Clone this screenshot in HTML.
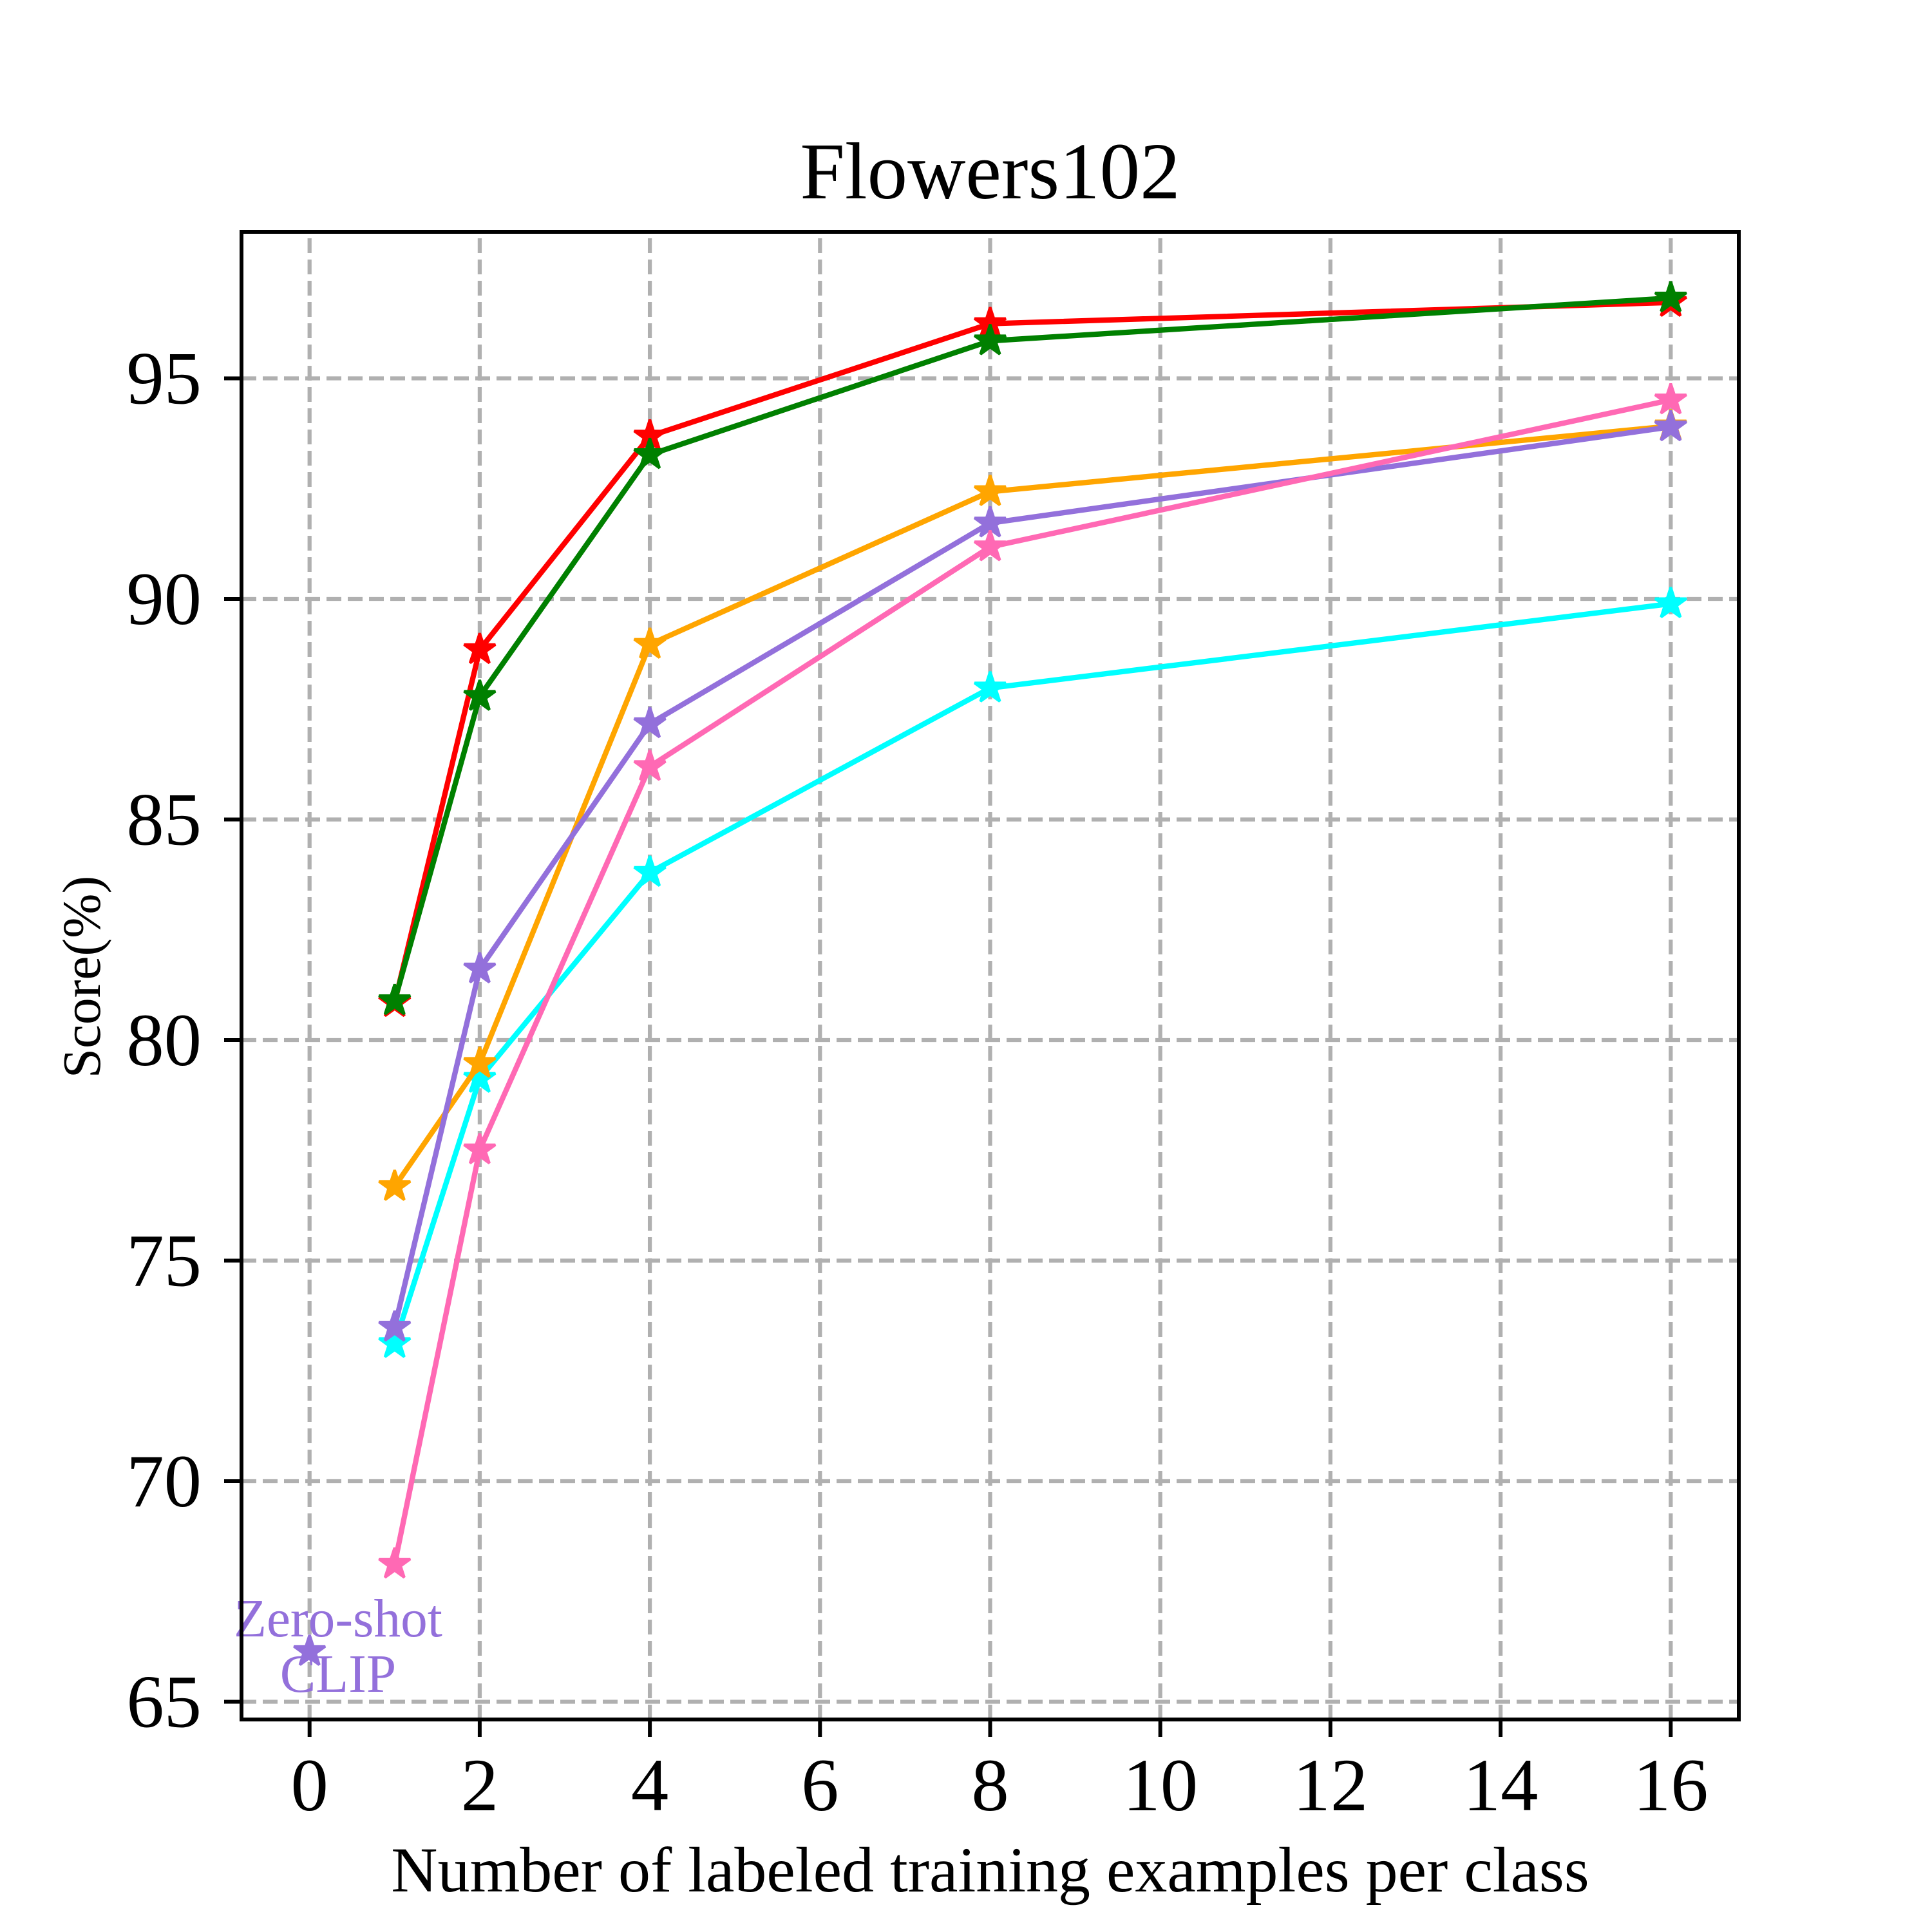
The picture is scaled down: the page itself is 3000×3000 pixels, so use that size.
<!DOCTYPE html>
<html>
<head>
<meta charset="utf-8">
<style>
  html, body { margin: 0; padding: 0; background: #ffffff; }
  svg { display: block; }
  text { font-family: "Liberation Serif", "DejaVu Serif", serif; fill: #000; }
</style>
</head>
<body>
<svg width="3000" height="3000" viewBox="0 0 3000 3000" xmlns="http://www.w3.org/2000/svg">
  <defs>
    <path id="star" d="M0,-25.5 L5.725,-7.88 L24.253,-7.88 L9.264,3.01 L14.989,20.63 L0,9.74 L-14.989,20.63 L-9.264,3.01 L-24.253,-7.88 L-5.725,-7.88 Z" stroke-width="4.2" stroke-linejoin="bevel"/>
  </defs>
  <rect x="0" y="0" width="3000" height="3000" fill="#ffffff"/>

  <!-- grid -->
  <g stroke="#b0b0b0" stroke-width="6.25" stroke-dasharray="23 10" fill="none">
    <line x1="480.7" y1="2670" x2="480.7" y2="360"/>
    <line x1="744.9" y1="2670" x2="744.9" y2="360"/>
    <line x1="1009.1" y1="2670" x2="1009.1" y2="360"/>
    <line x1="1273.3" y1="2670" x2="1273.3" y2="360"/>
    <line x1="1537.5" y1="2670" x2="1537.5" y2="360"/>
    <line x1="1801.7" y1="2670" x2="1801.7" y2="360"/>
    <line x1="2065.9" y1="2670" x2="2065.9" y2="360"/>
    <line x1="2330.1" y1="2670" x2="2330.1" y2="360"/>
    <line x1="2594.3" y1="2670" x2="2594.3" y2="360"/>
    <line x1="375" y1="2642.5" x2="2700" y2="2642.5"/>
    <line x1="375" y1="2300" x2="2700" y2="2300"/>
    <line x1="375" y1="1957.5" x2="2700" y2="1957.5"/>
    <line x1="375" y1="1615" x2="2700" y2="1615"/>
    <line x1="375" y1="1272.5" x2="2700" y2="1272.5"/>
    <line x1="375" y1="930" x2="2700" y2="930"/>
    <line x1="375" y1="587.5" x2="2700" y2="587.5"/>
  </g>

  <!-- zero-shot CLIP -->
  <use href="#star" x="480.7" y="2564.4" fill="#9370db" stroke="#9370db"/>
  <text x="525" y="2541" font-size="83.3" text-anchor="middle" style="fill:#9370db">Zero-shot</text>
  <text x="525" y="2627" font-size="83.3" text-anchor="middle" style="fill:#9370db">CLIP</text>

  <!-- cyan -->
  <polyline points="612.8,2086.3 744.9,1674.6 1009.1,1354.7 1537.5,1068.4 2594.3,937.5" fill="none" stroke="#00ffff" stroke-width="8.3" stroke-linejoin="round" stroke-linecap="butt"/>
  <g fill="#00ffff" stroke="#00ffff">
    <use href="#star" x="612.8" y="2086.3"/>
    <use href="#star" x="744.9" y="1674.6"/>
    <use href="#star" x="1009.1" y="1354.7"/>
    <use href="#star" x="1537.5" y="1068.4"/>
    <use href="#star" x="2594.3" y="937.5"/>
  </g>

  <!-- orange -->
  <polyline points="612.8,1842.4 744.9,1651.3 1009.1,1000.6 1537.5,763.5 2594.3,661.5" fill="none" stroke="#ffa500" stroke-width="8.3" stroke-linejoin="round"/>
  <g fill="#ffa500" stroke="#ffa500">
    <use href="#star" x="612.8" y="1842.4"/>
    <use href="#star" x="744.9" y="1651.3"/>
    <use href="#star" x="1009.1" y="1000.6"/>
    <use href="#star" x="1537.5" y="763.5"/>
    <use href="#star" x="2594.3" y="661.5"/>
  </g>

  <!-- purple -->
  <polyline points="612.8,2060.9 744.9,1504.7 1009.1,1123.9 1537.5,812.2 2594.3,662.9" fill="none" stroke="#9370db" stroke-width="8.3" stroke-linejoin="round"/>
  <g fill="#9370db" stroke="#9370db">
    <use href="#star" x="612.8" y="2060.9"/>
    <use href="#star" x="744.9" y="1504.7"/>
    <use href="#star" x="1009.1" y="1123.9"/>
    <use href="#star" x="1537.5" y="812.2"/>
    <use href="#star" x="2594.3" y="662.9"/>
  </g>

  <!-- pink -->
  <polyline points="612.8,2428.8 744.9,1785.6 1009.1,1190.3 1537.5,849.2 2594.3,621.1" fill="none" stroke="#ff69b4" stroke-width="8.3" stroke-linejoin="round"/>
  <g fill="#ff69b4" stroke="#ff69b4">
    <use href="#star" x="612.8" y="2428.8"/>
    <use href="#star" x="744.9" y="1785.6"/>
    <use href="#star" x="1009.1" y="1190.3"/>
    <use href="#star" x="1537.5" y="849.2"/>
    <use href="#star" x="2594.3" y="621.1"/>
  </g>

  <!-- red -->
  <polyline points="612.8,1556.8 744.9,1008.8 1009.1,677.2 1537.5,502.6 2594.3,469.7" fill="none" stroke="#ff0000" stroke-width="8.3" stroke-linejoin="round"/>
  <g fill="#ff0000" stroke="#ff0000">
    <use href="#star" x="612.8" y="1556.8"/>
    <use href="#star" x="744.9" y="1008.8"/>
    <use href="#star" x="1009.1" y="677.2"/>
    <use href="#star" x="1537.5" y="502.6"/>
    <use href="#star" x="2594.3" y="469.7"/>
  </g>

  <!-- green -->
  <polyline points="612.8,1554.0 744.9,1081.4 1009.1,706.0 1537.5,529.3 2594.3,462.8" fill="none" stroke="#008000" stroke-width="8.3" stroke-linejoin="round"/>
  <g fill="#008000" stroke="#008000">
    <use href="#star" x="612.8" y="1554.0"/>
    <use href="#star" x="744.9" y="1081.4"/>
    <use href="#star" x="1009.1" y="706.0"/>
    <use href="#star" x="1537.5" y="529.3"/>
    <use href="#star" x="2594.3" y="462.8"/>
  </g>

  <!-- spines -->
  <rect x="375" y="360" width="2325" height="2310" fill="none" stroke="#000" stroke-width="6"/>

  <!-- ticks -->
  <g stroke="#000" stroke-width="6">
    <line x1="480.7" y1="2670" x2="480.7" y2="2697"/>
    <line x1="744.9" y1="2670" x2="744.9" y2="2697"/>
    <line x1="1009.1" y1="2670" x2="1009.1" y2="2697"/>
    <line x1="1273.3" y1="2670" x2="1273.3" y2="2697"/>
    <line x1="1537.5" y1="2670" x2="1537.5" y2="2697"/>
    <line x1="1801.7" y1="2670" x2="1801.7" y2="2697"/>
    <line x1="2065.9" y1="2670" x2="2065.9" y2="2697"/>
    <line x1="2330.1" y1="2670" x2="2330.1" y2="2697"/>
    <line x1="2594.3" y1="2670" x2="2594.3" y2="2697"/>
    <line x1="348" y1="2642.5" x2="375" y2="2642.5"/>
    <line x1="348" y1="2300" x2="375" y2="2300"/>
    <line x1="348" y1="1957.5" x2="375" y2="1957.5"/>
    <line x1="348" y1="1615" x2="375" y2="1615"/>
    <line x1="348" y1="1272.5" x2="375" y2="1272.5"/>
    <line x1="348" y1="930" x2="375" y2="930"/>
    <line x1="348" y1="587.5" x2="375" y2="587.5"/>
  </g>

  <!-- x tick labels -->
  <g font-size="116.7" text-anchor="middle">
    <text x="480.7" y="2811">0</text>
    <text x="744.9" y="2811">2</text>
    <text x="1009.1" y="2811">4</text>
    <text x="1273.3" y="2811">6</text>
    <text x="1537.5" y="2811">8</text>
    <text x="1801.7" y="2811">10</text>
    <text x="2065.9" y="2811">12</text>
    <text x="2330.1" y="2811">14</text>
    <text x="2594.3" y="2811">16</text>
  </g>

  <!-- y tick labels -->
  <g font-size="116.7" text-anchor="end">
    <text x="313" y="2681.5">65</text>
    <text x="313" y="2339">70</text>
    <text x="313" y="1996.5">75</text>
    <text x="313" y="1654">80</text>
    <text x="313" y="1311.5">85</text>
    <text x="313" y="969">90</text>
    <text x="313" y="626.5">95</text>
  </g>

  <!-- title and labels -->
  <text x="1537.5" y="308" font-size="125" text-anchor="middle">Flowers102</text>
  <text x="1537.5" y="2937" font-size="100" text-anchor="middle">Number of labeled training examples per class</text>
  <text transform="translate(155,1517) rotate(-90)" x="0" y="0" font-size="83.3" text-anchor="middle">Score(%)</text>
</svg>
</body>
</html>
